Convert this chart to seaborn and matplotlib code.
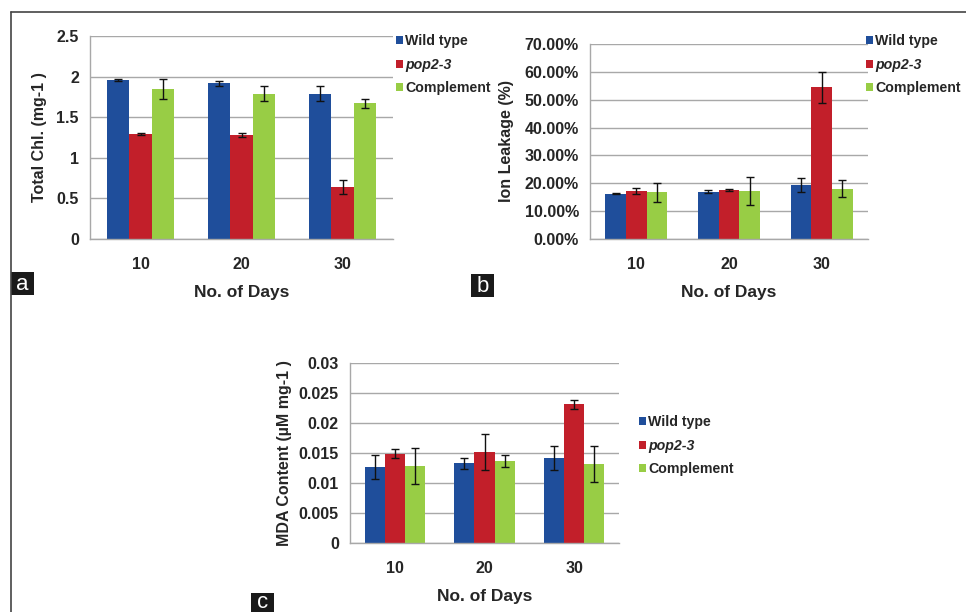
import numpy as np
import pandas as pd
import matplotlib
matplotlib.use("Agg")
import matplotlib.pyplot as plt
import seaborn as sns
from matplotlib.lines import Line2D
from matplotlib.patches import Patch, Rectangle
from matplotlib.ticker import FuncFormatter

# ---- data -------------------------------------------------------------
days = ["10", "20", "30"]
genotypes = ["Wild type", "pop2-3", "Complement"]

# (a) total chlorophyll
chl_wt = [1.96, 1.92, 1.79]
chl_pop = [1.29, 1.28, 0.64]
chl_comp = [1.85, 1.79, 1.67]
chl_wt_err = [0.01, 0.03, 0.095]
chl_pop_err = [0.01, 0.02, 0.085]
chl_comp_err = [0.12, 0.095, 0.06]

# (b) ion leakage (fraction)
ion_wt = [0.163, 0.170, 0.194]
ion_pop = [0.172, 0.175, 0.544]
ion_comp = [0.1675, 0.1735, 0.181]
ion_wt_err = [0.003, 0.006, 0.024]
ion_pop_err = [0.010, 0.003, 0.056]
ion_comp_err = [0.033, 0.050, 0.030]

# (c) MDA content
mda_wt = [0.0127, 0.0133, 0.0141]
mda_pop = [0.0149, 0.0151, 0.0231]
mda_comp = [0.0129, 0.0137, 0.0131]
mda_wt_err = [0.0020, 0.0009, 0.0020]
mda_pop_err = [0.0008, 0.0030, 0.0008]
mda_comp_err = [0.0030, 0.0010, 0.0030]

colors = {"Wild type": "#1F4E9B", "pop2-3": "#C21F2A", "Complement": "#98CD45"}

sns.set_style("white")
plt.rcParams["font.family"] = ["Liberation Sans", "DejaVu Sans"]
plt.rcParams["font.weight"] = "bold"

W, H = 966, 612
fig = plt.figure(figsize=(W / 100, H / 100), dpi=100)

GRID = "#A8A8A8"


def frac_rect(left, top, right, bottom):
    return [left / W, 1 - bottom / H, (right - left) / W, (bottom - top) / H]


def panel(rect, series, errors, ylim, yticks, fmt, ylabel, leg_xy, ylabelpad):
    ax = fig.add_axes(frac_rect(*rect))
    df = pd.DataFrame({
        "day": days * len(genotypes),
        "genotype": [g for g in genotypes for _ in days],
        "value": [v for s in series for v in s],
    })
    sns.barplot(data=df, x="day", y="value", hue="genotype", order=days,
                hue_order=genotypes, palette=colors, width=0.67,
                errorbar=None, legend=False, saturation=1, ax=ax,
                edgecolor="none", linewidth=0)
    for cont, err, vals in zip(ax.containers, errors, series):
        xs = [p.get_x() + p.get_width() / 2 for p in cont]
        ax.errorbar(xs, vals, yerr=err, fmt="none", ecolor="#111111",
                    elinewidth=1.0, capsize=3, capthick=1.0, zorder=5)

    ax.set_xlim(-0.5, 2.5)
    ax.set_ylim(*ylim)
    ax.set_yticks(yticks)
    ax.yaxis.set_major_formatter(FuncFormatter(fmt))
    ax.set_xticks([-0.5, 0.5, 1.5, 2.5], minor=True)
    ax.tick_params(axis="x", which="major", length=0, pad=13, labelsize=11.5)
    ax.tick_params(axis="x", which="minor", length=5, color=GRID, width=1)
    ax.tick_params(axis="y", length=4, color=GRID, width=1, pad=4, labelsize=11.5)
    for lab in ax.get_xticklabels() + ax.get_yticklabels():
        lab.set_fontweight("bold")
    ax.yaxis.grid(True, color=GRID, linewidth=1)
    ax.set_axisbelow(True)
    for side in ("top", "right"):
        ax.spines[side].set_visible(False)
    for side in ("left", "bottom"):
        ax.spines[side].set_color(GRID)
        ax.spines[side].set_linewidth(1)
    ax.set_xlabel("No. of Days", fontsize=12.5, fontweight="bold", labelpad=9)
    ax.set_ylabel(ylabel, fontsize=11.5, fontweight="bold", labelpad=ylabelpad)

    handles = [Patch(facecolor=colors[g], edgecolor="none") for g in genotypes]
    leg = fig.legend(handles, genotypes, loc="upper left",
                     bbox_to_anchor=(leg_xy[0] / W, 1 - leg_xy[1] / H),
                     frameon=False, fontsize=10.2, handlelength=0.48,
                     handleheight=0.48, handletextpad=0.15, labelspacing=0.68,
                     borderpad=0, borderaxespad=0)
    for t in leg.get_texts():
        t.set_fontweight("bold")
    leg.get_texts()[1].set_style("italic")
    return ax


panel((90, 36, 393, 239), [chl_wt, chl_pop, chl_comp],
      [chl_wt_err, chl_pop_err, chl_comp_err], (0, 2.5),
      [0, 0.5, 1, 1.5, 2, 2.5], lambda v, p: f"{v:g}",
      "Total Chl. (mg-1 )", (396, 34), 7)

panel((590, 44, 868, 239), [ion_wt, ion_pop, ion_comp],
      [ion_wt_err, ion_pop_err, ion_comp_err], (0, 0.7),
      np.arange(0, 0.71, 0.1), lambda v, p: f"{v * 100:.2f}%",
      "Ion Leakage (%)", (866, 34), 8)

panel((350, 363, 619, 543), [mda_wt, mda_pop, mda_comp],
      [mda_wt_err, mda_pop_err, mda_comp_err], (0, 0.03),
      [0, 0.005, 0.01, 0.015, 0.02, 0.025, 0.03], lambda v, p: f"{v:g}",
      "MDA Content (\u00b5M mg-1 )", (639, 415), 5)

# outer frame: top and left edges
fig.add_artist(Line2D([11 / W, 1], [1 - 12 / H, 1 - 12 / H], color="#444444", lw=1.2))
fig.add_artist(Line2D([11 / W, 11 / W], [0, 1 - 12 / H], color="#444444", lw=1.2))

# panel letters on dark squares
letters = {"a": (11, 272, 12.5), "b": (471, 274, 12.5), "c": (251, 593, 10)}
for letter, (x0, y0, dy) in letters.items():
    fig.add_artist(Rectangle((x0 / W, 1 - (y0 + 23) / H), 23 / W, 23 / H,
                             transform=fig.transFigure, facecolor="#1A1A1A",
                             edgecolor="none"))
    fig.text((x0 + 11.5) / W, 1 - (y0 + dy) / H, letter, color="white",
             fontsize=16, fontweight="normal", ha="center", va="center")

fig.savefig("out.png", dpi=100)
